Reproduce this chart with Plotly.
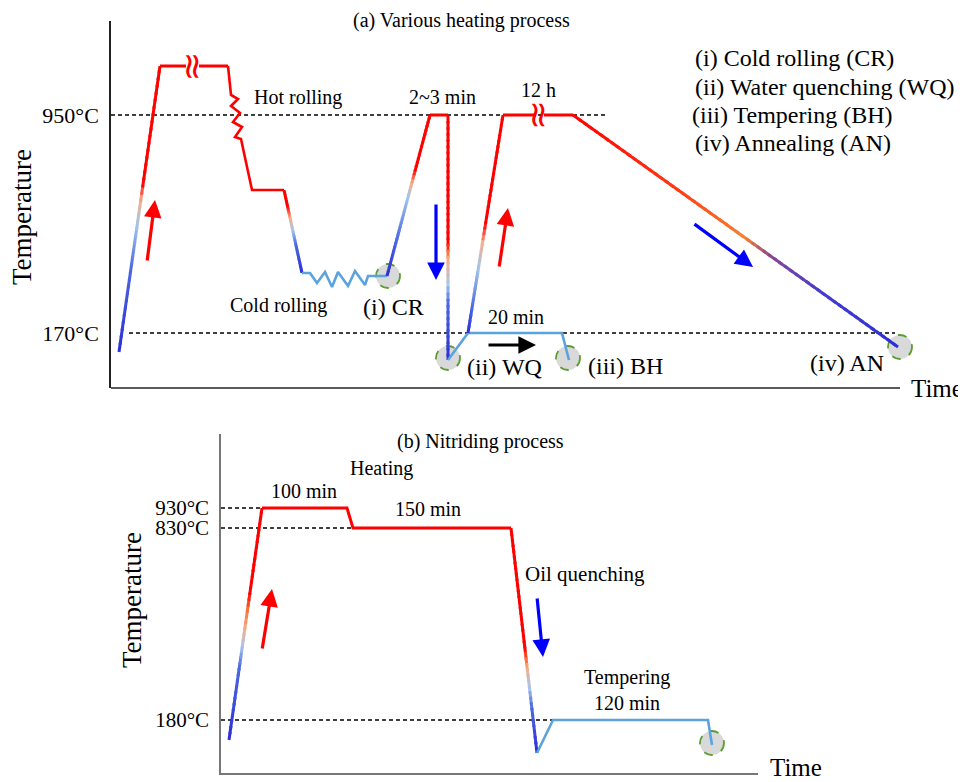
import plotly.graph_objects as go

# The page has an 8px body margin, so the figure is drawn 8px smaller and
# every page-pixel position below is shifted by OFF.
PAGE_W, PAGE_H = 966, 782
OFF = 8
W, H = PAGE_W - OFF, PAGE_H - OFF
FONT = "Liberation Serif, Times New Roman, serif"

# ---------------- Panel (a): schematic time units vs temperature level ----------------
a_heat1_t = [8, 49];            a_heat1_h = [36, 322]
a_hold1_t = [49, 75, None, 88, 117]
a_hold1_h = [322, 322, None, 322, 322]
a_hot_t = [117, 120, 127, 120, 129, 122, 131, 124, 130, 141, 173]
a_hot_h = [322, 293, 289, 282, 275, 266, 261, 251, 249, 198, 198]
a_hotdrop_t = [173, 191];       a_hotdrop_h = [198, 115]
a_cold_t = [191, 199, 206, 214, 221, 227, 237, 244, 254, 257, 276]
a_cold_h = [115, 115, 105, 116, 101, 116, 102, 117, 103, 112, 112]
a_rise2_t = [276, 319];         a_rise2_h = [112, 273]
a_hold2_t = [319, 337];         a_hold2_h = [273, 273]
a_wq_t = [337, 337];            a_wq_h = [273, 28]
a_wqup_t = [337, 357];          a_wqup_h = [28, 55]
a_bh_t = [357, 451, 458];       a_bh_h = [55, 55, 28]
a_rise3_t = [357, 392];         a_rise3_h = [55, 273]
a_hold3_t = [392, 425, None, 433, 462]
a_hold3_h = [273, 273, None, 273, 273]
a_anneal_t = [462, 787];        a_anneal_h = [273, 41]
a_ref_levels = [273, 55]
a_ref_labels = ["950°C", "170°C"]
a_ref_t0 = [0, 18]
a_ref_t1 = [497, 784]
a_breaks_t = [81.5, 428]
a_breaks_h = [322, 273]
a_circle_t = [277, 337, 457, 789]
a_circle_h = [112, 30, 30, 41]
# arrows: tail (t,h) -> head (t,h)
a_arrows = [
    (36, 126, 44, 188, "red"),
    (325, 185, 325, 108, "blue"),
    (388, 120, 397, 180, "red"),
    (376, 43, 425, 43, "black"),
    (582, 165, 642, 121, "blue"),
]

# ---------------- Panel (b) ----------------
b_rise_t = [8, 41];             b_rise_h = [33, 265]
b_hold_t = [41, 126, 132, 290]; b_hold_h = [265, 265, 245, 245]
b_drop_t = [290, 316];          b_drop_h = [245, 20]
b_temper_t = [316, 332, 487, 491]
b_temper_h = [20, 53, 53, 28]
b_ref_levels = [265, 245, 53]
b_ref_labels = ["930°C", "830°C", "180°C"]
b_ref_t1 = [41, 132, 332]
b_circle_t = [491]
b_circle_h = [30]
b_arrows = [
    (41, 123, 51, 184, "red"),
    (316, 176, 322, 116, "blue"),
]

# ---------------- colours ----------------
B = (45, 45, 215)
MB = (75, 105, 225)
LB = (165, 198, 235)
LO = (245, 175, 140)
O = (250, 115, 55)
R = (255, 0, 0)
LIGHTBLUE = "#5ba3dc"
RED = "#ff0000"


def interp_color(v, stops):
    if v <= stops[0][0]:
        c = stops[0][1]
    elif v >= stops[-1][0]:
        c = stops[-1][1]
    else:
        for (v0, c0), (v1, c1) in zip(stops[:-1], stops[1:]):
            if v0 <= v <= v1:
                f = (v - v0) / (v1 - v0) if v1 != v0 else 0
                c = tuple(c0[k] + (c1[k] - c0[k]) * f for k in range(3))
                break
    return "rgb(%d,%d,%d)" % tuple(int(round(x)) for x in c)


fig = go.Figure()


def add_line(t, h, color, xa, ya, width=3, dash=None):
    fig.add_trace(go.Scatter(x=t, y=h, mode="lines", xaxis=xa, yaxis=ya,
                             line=dict(color=color, width=width, dash=dash),
                             hoverinfo="skip", showlegend=False))


def add_grad(t, h, stops, xa, ya, by="h", n=40, width=3):
    t0, t1 = t
    h0, h1 = h
    for i in range(n):
        f0, f1 = i / n, (i + 1) / n
        fm = (f0 + f1) / 2
        v = (h0 + (h1 - h0) * fm) if by == "h" else (t0 + (t1 - t0) * fm)
        f1e = min(1, f1 + 0.01)
        add_line([t0 + (t1 - t0) * f0, t0 + (t1 - t0) * f1e],
                 [h0 + (h1 - h0) * f0, h0 + (h1 - h0) * f1e],
                 interp_color(v, stops), xa, ya, width)


# dashed reference lines
for lev, t0, t1 in zip(a_ref_levels, a_ref_t0, a_ref_t1):
    add_line([t0, t1], [lev, lev], "black", "x", "y", 1.3, "4px,3px")
for lev, t1 in zip(b_ref_levels, b_ref_t1):
    add_line([0, t1], [lev, lev], "black", "x2", "y2", 1.3, "4px,3px")

# ---- panel (a) curves ----
add_grad(a_heat1_t, a_heat1_h, [(36, B), (120, MB), (163, LB), (188, LO), (205, R)], "x", "y")
add_line(a_hold1_t, a_hold1_h, RED, "x", "y")
add_line(a_hot_t, a_hot_h, RED, "x", "y", 2.6)
add_grad(a_hotdrop_t, a_hotdrop_h, [(115, B), (143, MB), (158, LB), (170, LO), (182, R)], "x", "y")
add_line(a_cold_t, a_cold_h, LIGHTBLUE, "x", "y", 2.6)
add_grad(a_rise2_t, a_rise2_h, [(112, B), (148, MB), (191, LB), (205, LO), (218, R)], "x", "y")
add_line(a_hold2_t, a_hold2_h, RED, "x", "y")
add_grad(a_wq_t, a_wq_h, [(28, B), (85, MB), (103, LB), (128, LO), (136, O), (145, R)], "x", "y")
add_line(a_wqup_t, a_wqup_h, LIGHTBLUE, "x", "y", 2.6)
add_line(a_bh_t, a_bh_h, LIGHTBLUE, "x", "y", 2.6)
add_grad(a_rise3_t, a_rise3_h, [(55, B), (80, MB), (120, LB), (145, LO), (165, R)], "x", "y")
add_line(a_hold3_t, a_hold3_h, RED, "x", "y")
add_grad(a_anneal_t, a_anneal_h,
         [(462, R), (569, (255, 60, 20)), (634, (245, 130, 50)), (659, (140, 70, 140)),
          (709, (70, 60, 210)), (787, B)], "x", "y", by="t", n=60)

# ---- panel (b) curves ----
add_grad(b_rise_t, b_rise_h, [(33, B), (106, MB), (126, LB), (143, LO), (163, O), (180, R)], "x2", "y2")
add_line(b_hold_t, b_hold_h, RED, "x2", "y2")
add_grad(b_drop_t, b_drop_h, [(20, B), (66, MB), (85, LB), (105, LO), (113, O), (125, R)], "x2", "y2")
add_line(b_temper_t, b_temper_h, LIGHTBLUE, "x2", "y2", 2.6)


def P(x, y):
    """page pixel -> paper coords of the (offset) figure"""
    return (x - OFF) / W, 1 - (y - OFF) / H


def circle(t, h, xr, yr):
    return dict(type="circle", xref=xr, yref=yr, xsizemode="pixel", ysizemode="pixel",
                xanchor=t, yanchor=h, x0=-12, x1=12, y0=-12, y1=12,
                fillcolor="#d9d9d9", line=dict(color="#5a9e32", width=1.8, dash="dash"),
                layer="below")


shapes = [circle(t, h, "x", "y") for t, h in zip(a_circle_t, a_circle_h)]
shapes += [circle(t, h, "x2", "y2") for t, h in zip(b_circle_t, b_circle_h)]
# panel (a) time axis line (the plot area is wider than the drawn axis so the
# end circle is not clipped)
ax0, ay0 = P(111, 388)
ax1, _ = P(900, 388)
shapes.append(dict(type="line", xref="paper", yref="paper", x0=ax0, x1=ax1, y0=ay0, y1=ay0,
                   line=dict(color="#222", width=1.5), layer="above"))

annotations = []
for (t0, h0, t1, h1, c), xr, yr in [(a, "x", "y") for a in a_arrows] + [(b, "x2", "y2") for b in b_arrows]:
    annotations.append(dict(x=t1, y=h1, ax=t0, ay=h0, xref=xr, yref=yr, axref=xr, ayref=yr,
                            text="", showarrow=True, arrowhead=2, arrowsize=1.1,
                            arrowwidth=3.2, arrowcolor=c, standoff=0))

# break symbols
for t, h in zip(a_breaks_t, a_breaks_h):
    annotations.append(dict(x=t, y=h, xref="x", yref="y", text="≈", showarrow=False,
                            textangle=90, font=dict(family="DejaVu Sans", size=36, color=RED)))


def txt(s, x, y, size=20, xanchor="center", angle=0):
    px, py = P(x, y)
    annotations.append(dict(x=px, y=py, xref="paper", yref="paper", text=s, showarrow=False,
                            xanchor=xanchor, yanchor="middle", textangle=angle,
                            font=dict(family=FONT, size=size, color="black")))


# panel (a) text
txt("(a) Various heating process", 461, 20, 20)
txt("(i) Cold rolling (CR)", 693, 58, 24, "left")
txt("(ii) Water quenching (WQ)", 693, 87, 24, "left")
txt("(iii) Tempering (BH)", 690, 115, 24, "left")
txt("(iv) Annealing (AN)", 693, 143, 24, "left")
txt("Hot rolling", 298, 97, 20)
txt("2~3 min", 442, 97, 20)
txt("12 h", 538, 90, 20)
txt("Cold rolling", 278, 305, 20)
txt("(i) CR", 393, 307, 24)
txt("20 min", 516, 317, 20)
txt("(ii) WQ", 505, 367, 24)
txt("(iii) BH", 625, 366, 24)
txt("(iv) AN", 847, 363, 24)
txt("Temperature", 22, 217, 27, angle=-90)
txt("Time", 909, 388, 25, "left")

# panel (b) text
txt("(b) Nitriding process", 480, 442, 20)
txt("Heating", 381, 468, 20)
txt("100 min", 304, 491, 20)
txt("150 min", 428, 509, 20)
txt("Oil quenching", 585, 574, 21)
txt("Tempering", 627, 677, 20)
txt("120 min", 627, 703, 20)
txt("Temperature", 132, 600, 27, angle=-90)
txt("Time", 768, 767, 25, "left")


def dom_x(x0, x1):
    return [(x0 - OFF) / W, (x1 - OFF) / W]


def dom_y(ytop, ybot):
    return [1 - (ybot - OFF) / H, 1 - (ytop - OFF) / H]


axis_common = dict(showgrid=False, zeroline=False, fixedrange=True, ticks="")

fig.update_layout(
    width=W, height=H, autosize=False,
    margin=dict(l=0, r=0, t=0, b=0),
    paper_bgcolor="white", plot_bgcolor="rgba(0,0,0,0)",
    showlegend=False,
    xaxis=dict(domain=dom_x(111, 920), range=[0, 809], anchor="y", showline=False,
               showticklabels=False, **axis_common),
    yaxis=dict(domain=dom_y(21, 388), range=[0, 367], anchor="x", showline=True,
               linecolor="#222", linewidth=1.5, tickvals=a_ref_levels, ticktext=a_ref_labels,
               ticklabelstandoff=6,
               tickfont=dict(family=FONT, size=22, color="black"), **axis_common),
    xaxis2=dict(domain=dom_x(221, 758), range=[0, 537], anchor="y2", showline=True,
                linecolor="#777", linewidth=1.5, showticklabels=False, **axis_common),
    yaxis2=dict(domain=dom_y(434, 773), range=[0, 339], anchor="x2", showline=True,
                linecolor="#777", linewidth=1.5, tickvals=b_ref_levels, ticktext=b_ref_labels,
                ticklabelstandoff=6,
                tickfont=dict(family=FONT, size=21, color="black"), **axis_common),
    shapes=shapes,
    annotations=annotations,
)

fig.write_html("out.html")
